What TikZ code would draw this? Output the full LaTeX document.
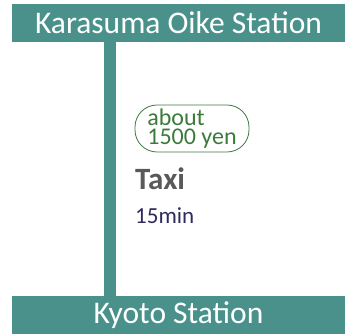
\documentclass[tikz,border=0pt]{standalone}
\usepackage{fontspec}
\setmainfont{Carlito}
\usetikzlibrary{positioning}
\definecolor{railteal}{HTML}{4A918B}
\definecolor{faregreen}{HTML}{3B7A3B}
\definecolor{taxigray}{HTML}{595959}
\definecolor{timeblue}{HTML}{2F2A5C}

\begin{document}
\begin{tikzpicture}[x=1pt,y=1pt,
  station/.style={fill=railteal,text=white,minimum width=333pt,minimum height=38pt,inner sep=0pt,font=\fontsize{31.5}{33}\selectfont},
  fare/.style={draw=faregreen,thick,text=faregreen,rounded corners=22pt,align=left,minimum width=114pt,minimum height=47pt,inner sep=0pt,font=\fontsize{24}{19.5}\selectfont},
  mode/.style={anchor=base west,inner sep=0pt}]
  \useasboundingbox (0,0) rectangle (351,-336);
  % the two stations
  \node[station] (karasuma) at (178.5,-23) {Karasuma Oike Station};
  \node[station] (kyoto) at (178.5,-315) {Kyoto Station};
  % the route between them
  \draw[railteal,line width=12pt] ([xshift=98pt]karasuma.south west) -- ([xshift=98pt]kyoto.north west);
  % what the ride costs and takes
  \node[fare] (fare) at (192,-128.5) {about\\1500 yen};
  \node[mode,text=taxigray,font=\fontsize{31}{33}\selectfont\bfseries] (taxi) at (135,-190) {Taxi};
  \node[mode,text=timeblue,font=\fontsize{23}{25}\selectfont] (time) at (135,-224) {15min};
\end{tikzpicture}
\end{document}
